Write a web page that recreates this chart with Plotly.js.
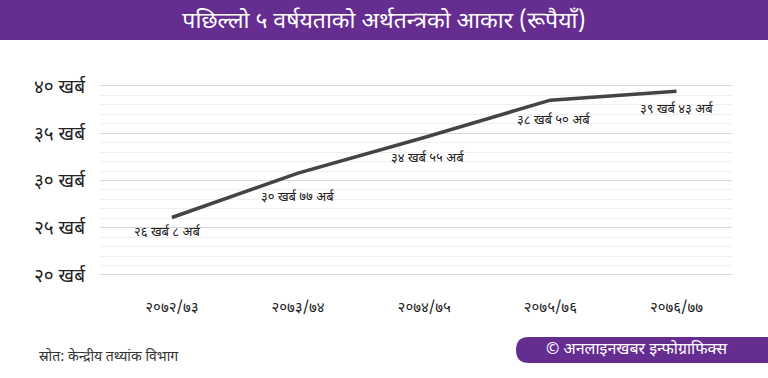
<!DOCTYPE html>
<html>
<head>
<meta charset="utf-8">
<script src="https://cdn.plot.ly/plotly-3.0.1.min.js"></script>
<style>
  html, body { margin: 0; padding: 0; background: #ffffff; }
  #chart { width: 768px; height: 378px; }
</style>
</head>
<body>
<div id="chart"></div>
<script>
// ---- data ----
const years = ['२०७२/७३', '२०७३/७४', '२०७४/७५', '२०७५/७६', '२०७६/७७'];
const sizeKharab = [26.08, 30.77, 34.55, 38.50, 39.43];
const pointLabels = ['२६ खर्ब ८ अर्ब', '३० खर्ब ७७ अर्ब', '३४ खर्ब ५५ अर्ब', '३८ खर्ब ५० अर्ब', '३९ खर्ब ४३ अर्ब'];
const yTickVals = [20, 25, 30, 35, 40];
const yTickText = ['२० खर्ब', '२५ खर्ब', '३० खर्ब', '३५ खर्ब', '४० खर्ब'];
const titleText = 'पछिल्लो ५ वर्षयताको अर्थतन्त्रको आकार (रूपैयाँ)';
const sourceText = 'स्रोत: केन्द्रीय तथ्यांक विभाग';
const creditText = '© अनलाइनखबर इन्फोग्राफिक्स';

// label placement (style only, pixels)
const labelDx = [-4, 0, 4, 4, 0];
const labelDy = [-15, -24, -21, -20, -18];

const FONT = '"Noto Sans Devanagari", "Noto Sans", "Lohit Devanagari", sans-serif';
const PURPLE = '#662d91';

// plot area in pixels: left 100, right 732, top 80, bottom 280
const L = 100, R = 732, T = 80, B = 280;
const px = x => (x - L) / (R - L);
const py = y => (B - y) / (B - T);

// pill path (rounded left end)
const pl = 516, pr = 772, pt = 337, pb = 363, rad = 13;
const pill = `M ${px(pl + rad)},${py(pt)} L ${px(pr)},${py(pt)} L ${px(pr)},${py(pb)} L ${px(pl + rad)},${py(pb)} ` +
  `Q ${px(pl)},${py(pb)} ${px(pl)},${py((pt + pb) / 2)} Q ${px(pl)},${py(pt)} ${px(pl + rad)},${py(pt)} Z`;

const trace = {
  x: years,
  y: sizeKharab,
  type: 'scatter',
  mode: 'lines',
  line: { color: '#444444', width: 3.5 },
  hoverinfo: 'skip'
};

const annotations = years.map((yr, i) => ({
  x: yr, y: sizeKharab[i], xref: 'x', yref: 'y',
  text: pointLabels[i], showarrow: false,
  yshift: labelDy[i], xshift: labelDx[i],
  font: { family: FONT, size: 13, color: '#222' }
}));

annotations.push({
  xref: 'paper', yref: 'paper', x: px(37), y: py(357), xanchor: 'left', yanchor: 'middle',
  text: sourceText, showarrow: false, font: { family: FONT, size: 14, color: '#333' }
});
annotations.push({
  xref: 'paper', yref: 'paper', x: px(637), y: py(350), xanchor: 'center', yanchor: 'middle',
  text: creditText, showarrow: false, font: { family: FONT, size: 16, color: '#ffffff' }
});

const layout = {
  width: 768, height: 378,
  margin: { l: L, r: 768 - R, t: T, b: 378 - B, pad: 0 },
  paper_bgcolor: '#ffffff', plot_bgcolor: '#ffffff',
  showlegend: false,
  title: {
    text: titleText, xref: 'container', x: 0.5, xanchor: 'center',
    yref: 'container', y: 1 - 20 / 378, yanchor: 'middle',
    font: { family: FONT, size: 23, color: '#ffffff' }
  },
  xaxis: {
    type: 'category', range: [-0.57, 4.44],
    showgrid: false, zeroline: false, showline: false, ticks: '',
    ticklabelstandoff: 16,
    tickfont: { family: FONT, size: 15, color: '#222' }
  },
  yaxis: {
    range: [19.47, 40.63],
    tickmode: 'array', tickvals: yTickVals, ticktext: yTickText,
    showgrid: true, gridcolor: '#d9d9d9', gridwidth: 1,
    zeroline: false, showline: false, ticks: '',
    ticklabelstandoff: 14,
    tickfont: { family: FONT, size: 19, color: '#222' },
    minor: { tick0: 20, dtick: 1, showgrid: true, gridcolor: '#efefef', gridwidth: 1 }
  },
  shapes: [
    { type: 'rect', xref: 'paper', yref: 'paper', x0: px(-5), x1: px(775), y0: py(40), y1: py(-5),
      fillcolor: PURPLE, line: { width: 0 }, layer: 'below' },
    { type: 'path', xref: 'paper', yref: 'paper', path: pill, fillcolor: PURPLE, line: { width: 0 } }
  ],
  annotations: annotations
};

Plotly.newPlot('chart', [trace], layout, { displayModeBar: false, staticPlot: true });
</script>
</body>
</html>
